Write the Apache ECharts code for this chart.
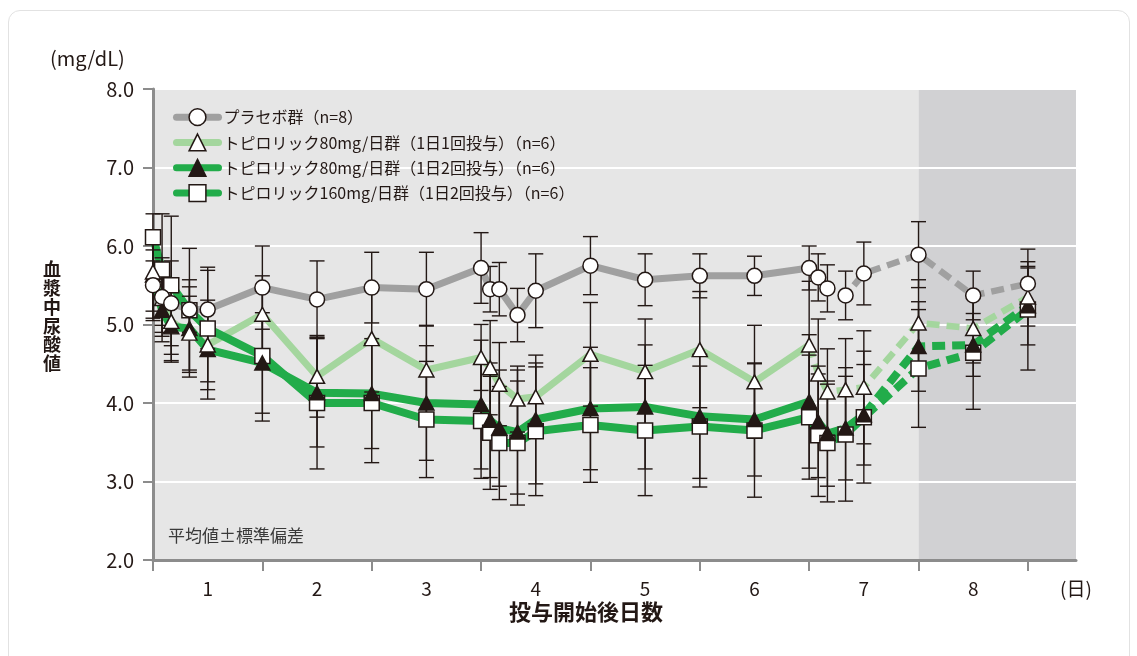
<!DOCTYPE html>
<html><head><meta charset="utf-8">
<script src="https://cdn.jsdelivr.net/npm/echarts@6/dist/echarts.min.js"></script>
<style>
html,body{margin:0;padding:0;background:#fff;}
#card{position:absolute;left:8px;top:10px;width:1120px;height:680px;border:1.5px solid #e2e2e2;border-radius:12px;background:#fff;}
#chart{position:absolute;left:0;top:0;width:1137px;height:656px;}
</style></head><body>
<div id="card"></div><div id="chart"></div>
<script>
// time points (days from start of dosing)
const days = [0, 0.083, 0.167, 0.333, 0.5, 1, 1.5, 2, 2.5, 3, 3.083, 3.167, 3.333, 3.5, 4, 4.5, 5, 5.5, 6, 6.083, 6.167, 6.333, 6.5, 7, 7.5, 8];

const placeboMean = [5.50, 5.35, 5.27, 5.19, 5.19, 5.47, 5.32, 5.47, 5.45, 5.72, 5.45, 5.45, 5.12, 5.43, 5.75, 5.57, 5.62, 5.62, 5.72, 5.60, 5.46, 5.37, 5.65, 5.89, 5.37, 5.52];
const placeboSD   = [0.45, 0.50, 0.54, 0.29, 0.50, 0.53, 0.49, 0.45, 0.47, 0.45, 0.29, 0.34, 0.34, 0.47, 0.37, 0.33, 0.28, 0.25, 0.28, 0.30, 0.30, 0.31, 0.40, 0.42, 0.31, 0.28];

const qdMean = [5.67, 5.33, 5.04, 4.89, 4.74, 5.13, 4.34, 4.82, 4.42, 4.58, 4.45, 4.24, 4.05, 4.08, 4.62, 4.40, 4.68, 4.27, 4.74, 4.37, 4.14, 4.17, 4.20, 5.02, 4.95, 5.35];
const qdSD   = [0.50, 0.43, 0.50, 0.47, 0.47, 0.49, 0.52, 0.68, 0.57, 0.42, 0.60, 0.53, 0.42, 0.43, 0.66, 0.67, 0.74, 0.72, 0.81, 0.70, 0.55, 0.65, 0.72, 0.55, 0.44, 0.37];

const bid80Mean = [5.63, 5.18, 4.97, 4.95, 4.68, 4.51, 4.13, 4.12, 4.00, 3.98, 3.78, 3.68, 3.63, 3.79, 3.93, 3.95, 3.83, 3.79, 4.02, 3.76, 3.61, 3.68, 3.85, 4.72, 4.74, 5.24];
const bid80SD   = [0.55, 0.40, 0.45, 0.62, 0.63, 0.64, 0.69, 0.70, 0.73, 0.82, 0.73, 0.74, 0.79, 0.82, 0.78, 0.79, 0.79, 0.72, 0.85, 0.71, 0.67, 0.66, 0.64, 0.57, 0.40, 0.50];

const bid160Mean = [6.11, 5.70, 5.50, 5.18, 4.95, 4.60, 4.00, 4.00, 3.79, 3.77, 3.62, 3.49, 3.49, 3.64, 3.72, 3.65, 3.70, 3.65, 3.82, 3.59, 3.49, 3.60, 3.82, 4.44, 4.64, 5.19];
const bid160SD   = [0.30, 0.71, 0.88, 0.79, 0.78, 0.83, 0.84, 0.76, 0.74, 0.73, 0.72, 0.72, 0.79, 0.82, 0.73, 0.83, 0.77, 0.85, 0.79, 0.78, 0.75, 0.85, 0.84, 0.75, 0.72, 0.77];

const seriesNames = ['プラセボ群（n=8）', 'トピロリック80mg/日群（1日1回投与）（n=6）', 'トピロリック80mg/日群（1日2回投与）（n=6）', 'トピロリック160mg/日群（1日2回投与）（n=6）'];
const xTickValues = [0, 1, 2, 3, 4, 5, 6, 7, 8];
const xLabelValues = [0.5, 1.5, 2.5, 3.5, 4.5, 5.5, 6.5, 7.5, 8.44];
const xLabelTexts = ['1', '2', '3', '4', '5', '6', '7', '8', '(日)'];
const bandStart = [0, 7];
const bandEnd = [7, 8.44];
const dashFrom = 18; // index from which lines are dashed

const X_MAX = 8.44, Y_MIN = 2, Y_MAX = 8;
const INK = '#231815';
const FONT = '"Noto Sans CJK JP", "Noto Sans", sans-serif';
const colors = ['#a0a0a0', '#a4d69e', '#22ac4a', '#22ac4a'];
const widths = [7, 7, 8, 8];
const symbols = ['circle', 'triangle', 'triangle', 'rect'];
const fills = ['#fff', '#fff', INK, '#fff'];
const means = [placeboMean, qdMean, bid80Mean, bid160Mean];
const sds = [placeboSD, qdSD, bid80SD, bid160SD];

const chart = echarts.init(document.getElementById('chart'), null, {renderer: 'canvas'});

function errRender(params, api) {
  const x = api.value(0), m = api.value(1), s = api.value(2);
  const top = api.coord([x, m + s]);
  const bot = api.coord([x, m - s]);
  const hw = 7.5;
  const style = {stroke: INK, lineWidth: 1.4};
  return {type: 'group', children: [
    {type: 'line', shape: {x1: top[0], y1: top[1], x2: bot[0], y2: bot[1]}, style},
    {type: 'line', shape: {x1: top[0] - hw, y1: top[1], x2: top[0] + hw, y2: top[1]}, style},
    {type: 'line', shape: {x1: bot[0] - hw, y1: bot[1], x2: bot[0] + hw, y2: bot[1]}, style}
  ]};
}
const bandColors = ['#e6e6e6', '#d1d1d3'];
function bandRender(params, api) {
  const p0 = api.coord([api.value(0), Y_MAX]);
  const p1 = api.coord([api.value(1), Y_MIN]);
  return {type: 'rect', shape: {x: p0[0], y: p0[1], width: p1[0] - p0[0], height: p1[1] - p0[1]},
    style: {fill: bandColors[params.dataIndex]}};
}

const series = [];
series.push({type: 'custom', renderItem: bandRender, silent: true, z: -10,
  data: bandStart.map((s, i) => [s, bandEnd[i]]), encode: {x: [0, 1]}});

// lines (solid)
for (let k = 0; k < 4; k++) {
  series.push({
    name: seriesNames[k], type: 'line', z: 2 + k * 0.01,
    data: days.slice(0, dashFrom + 1).map((d, i) => [d, means[k][i]]),
    showSymbol: false, symbol: symbols[k], symbolSize: 15,
    color: colors[k],
    itemStyle: {color: fills[k], borderColor: INK, borderWidth: 1.5},
    lineStyle: {color: colors[k], width: widths[k], cap: 'round', join: 'round'},
    silent: true
  });
}
// lines (dashed)
for (let k = 0; k < 4; k++) {
  series.push({
    name: 'dash' + k, type: 'line', z: 2 + k * 0.01,
    data: days.slice(dashFrom).map((d, i) => [d, means[k][i + dashFrom]]),
    showSymbol: false, symbol: 'none',
    lineStyle: {color: colors[k], width: k < 2 ? 6.5 : 8, type: [13, 7]},
    silent: true
  });
}
// error bars
for (let k = 0; k < 4; k++) {
  series.push({
    type: 'custom', renderItem: errRender, z: 3, silent: true,
    data: days.map((d, i) => [d, means[k][i], sds[k][i]]),
    encode: {x: 0, y: 1}
  });
}
// markers
const markerOrder = [3, 2, 1, 0];
markerOrder.forEach((k, j) => {
  series.push({
    name: 'mk' + k, type: 'scatter', z: 4 + j * 0.01, silent: true,
    data: days.map((d, i) => [d, means[k][i]]),
    symbol: symbols[k], symbolSize: k === 0 ? 15 : (k === 3 ? 15 : [15, 14]),
    itemStyle: {color: fills[k], borderColor: INK, borderWidth: 1.5, opacity: 1}
  });
});

chart.setOption({
  animation: false,
  backgroundColor: 'transparent',
  textStyle: {fontFamily: FONT},
  grid: {left: 153, right: 61, top: 89, bottom: 96, outerBoundsMode: 'none', containLabel: false},
  xAxis: {
    type: 'value', min: 0, max: X_MAX,
    axisLine: {show: true, lineStyle: {color: '#8c8c8c', width: 3}},
    axisTick: {show: true, customValues: xTickValues, length: 11, inside: false, lineStyle: {color: '#8c8c8c', width: 2}},
    axisLabel: {show: true, customValues: xLabelValues, margin: 19, fontSize: 19, color: INK, fontFamily: FONT,
      formatter: (v) => { const i = xLabelValues.findIndex(u => Math.abs(u - v) < 1e-6); return i >= 0 ? xLabelTexts[i] : ''; }},
    splitLine: {show: false}
  },
  yAxis: {
    type: 'value', min: Y_MIN, max: Y_MAX, interval: 1,
    axisLine: {show: true, lineStyle: {color: '#8c8c8c', width: 3}},
    axisTick: {show: true, length: 10, inside: false, lineStyle: {color: '#8c8c8c', width: 2}},
    axisLabel: {margin: 19, fontSize: 20, color: INK, fontFamily: FONT, formatter: v => v.toFixed(1)},
    splitLine: {show: true, lineStyle: {color: '#ffffff', width: 2}}
  },
  legend: {
    orient: 'vertical', left: 168, top: 103, itemWidth: 42, itemHeight: 21, itemGap: 7,
    textStyle: {fontSize: 16, color: INK, fontFamily: FONT},
    selectedMode: false,
    data: seriesNames.map((n, k) => ({
      name: n,
      itemStyle: {color: fills[k], borderColor: INK, borderWidth: 1.5},
      lineStyle: {color: colors[k], width: 7, cap: 'round', type: 'solid'}
    }))
  },
  graphic: [
    {type: 'text', left: 50, top: 48, style: {text: '(mg/dL)', fontSize: 20, fill: INK, fontFamily: FONT}},
    {type: 'text', left: 43, top: 260, style: {text: '血\n漿\n中\n尿\n酸\n値', fontSize: 18, lineHeight: 18.8, fontWeight: 'bold', fill: INK, fontFamily: FONT}},
    {type: 'text', left: 509, top: 601, style: {text: '投与開始後日数', fontSize: 22, fontWeight: 'bold', fill: INK, fontFamily: FONT}},
    {type: 'text', left: 168, top: 527, style: {text: '平均値±標準偏差', fontSize: 17, fill: '#3a3a3a', fontFamily: FONT}}
  ],
  series
});
</script>
</body></html>
